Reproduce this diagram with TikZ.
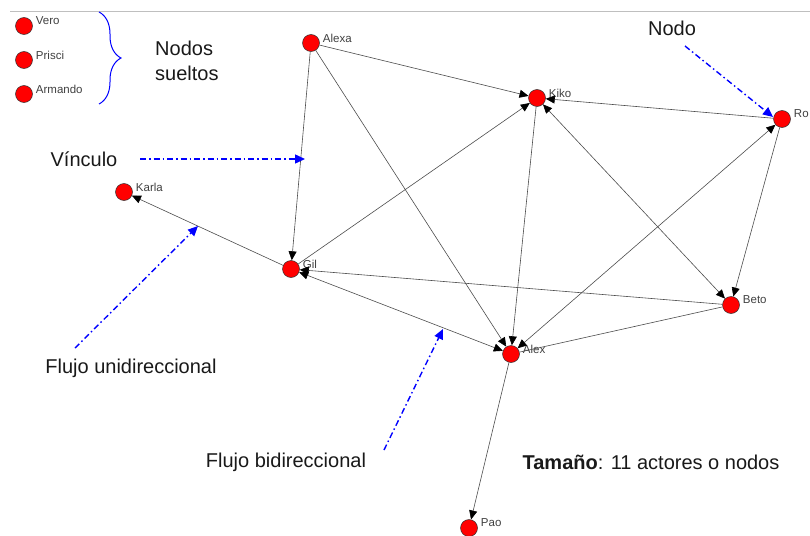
\documentclass[tikz,border=0pt]{standalone}
\usepackage{fontspec}
\setmainfont{Liberation Sans}
\usetikzlibrary{arrows.meta, decorations.pathreplacing}

\begin{document}
\begin{tikzpicture}[x=1pt, y=-1pt,
	lbl/.style={font=\fontsize{11.5}{13}\selectfont, text=black!75, inner sep=1pt, anchor=west, xshift=2pt, yshift=5pt},
	actor/.style={circle, draw=black!80, line width=0.5pt, fill=red, minimum size=17pt, inner sep=0pt, label={[lbl]0:#1}},
	tie/.style={draw=black!70, line width=0.6pt},
	dir/.style={tie, -{Triangle[length=9pt, width=8pt, color=black]}},
	bidir/.style={tie, {Triangle[length=9pt, width=8pt, color=black]}-{Triangle[length=9pt, width=8pt, color=black]}},
	note/.style={draw=blue, line width=1.4pt, dash pattern=on 6pt off 3pt on 1.5pt off 3pt, -{Triangle[length=10pt, width=9pt]}},
	notetext/.style={font=\fontsize{20}{25}\selectfont, text=black!90, inner sep=0pt}]

	\useasboundingbox (0,0) rectangle (810,535);
	\draw [black!25, line width=1pt] (10,12) -- (810,12);

	%%%%%%%%%%%%%%%%%%%%%%%%%%%%%%%%%%%%%%%%%%%%%%%%%%%%%%%%%%%%%%%%%%%%%

	\node [actor=Vero] (vero) at (24,26) {};
	\node [actor=Prisci] (prisci) at (24,60) {};
	\node [actor=Armando] (armando) at (24,94) {};

	\draw [blue, line width=1pt, decorate, decoration={brace, amplitude=22pt}] (99,12) -- (99,104);
	\node [notetext, anchor=west, align=left] (sueltos) at (155,61) {Nodos\\sueltos};

	%%%%%%%%%%%%%%%%%%%%%%%%%%%%%%%%%%%%%%%%%%%%%%%%%%%%%%%%%%%%%%%%%%%%%

	\node [actor=Alexa] (alexa) at (311,43) {};
	\node [actor=Kiko] (kiko) at (537,98) {};
	\node [actor=Ro] (ro) at (782,119) {};
	\node [actor=Karla] (karla) at (124,192) {};
	\node [actor=Gil] (gil) at (291,269) {};
	\node [actor=Beto] (beto) at (731,305) {};
	\node [actor=Alex] (alex) at (511,354) {};
	\node [actor=Pao] (pao) at (469,528) {};

	\draw [dir] (alexa) -- (kiko);
	\draw [dir] (alexa) -- (gil);
	\draw [dir] (alexa) -- (alex);
	\draw [dir] (ro) -- (kiko);
	\draw [dir] (gil) -- (kiko);
	\draw [bidir] (kiko) -- (beto);
	\draw [dir] (kiko) -- (alex);
	\draw [dir] (ro) -- (beto);
	\draw [bidir] (alex) -- (ro);
	\draw [bidir] (gil) -- (alex);
	\draw [dir] (beto) -- (gil);
	\draw [tie] (beto) -- (alex);
	\draw [dir] (gil) -- (karla);
	\draw [dir] (alex) -- (pao);

	%%%%%%%%%%%%%%%%%%%%%%%%%%%%%%%%%%%%%%%%%%%%%%%%%%%%%%%%%%%%%%%%%%%%%

	\node [notetext] (nodo) at (672,28) {Nodo};
	\coordinate (nodoA) at (685,46);
	\coordinate (nodoB) at (773,117);
	\draw [note] (nodoA) -- (nodoB);

	\node [notetext] (vinculo) at (84,159) {Vínculo};
	\coordinate (vinculoA) at (140,159);
	\coordinate (vinculoB) at (305,159);
	\draw [note] (vinculoA) -- (vinculoB);

	\node [notetext] (unidir) at (131,368) {Flujo unidireccional};
	\coordinate (unidirA) at (75,348);
	\coordinate (unidirB) at (198,226);
	\draw [note] (unidirA) -- (unidirB);

	\node [notetext] (bidirtext) at (286,462) {Flujo bidireccional};
	\coordinate (bidirA) at (384,450);
	\coordinate (bidirB) at (443,329);
	\draw [note] (bidirA) -- (bidirB);

	\node [notetext] (tamano) at (651,462) {\textbf{Tamaño}: 11 actores o nodos};

\end{tikzpicture}
\end{document}
